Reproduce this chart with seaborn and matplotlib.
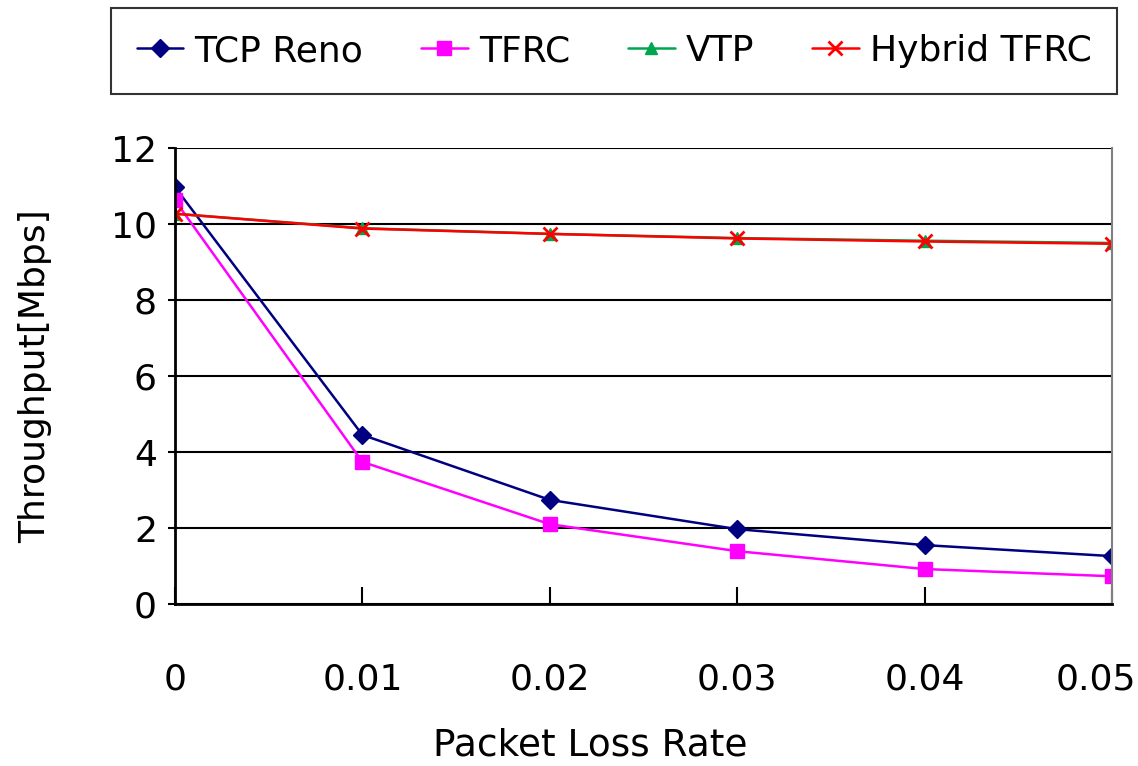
import numpy as np
import pandas as pd
import matplotlib.pyplot as plt
import matplotlib.transforms as mtransforms
import seaborn as sns

# data
loss_rate = [0, 0.01, 0.02, 0.03, 0.04, 0.05]
tick_labels = ['0', '0.01', '0.02', '0.03', '0.04', '0.05']
tcp_reno = [10.97, 4.45, 2.74, 1.97, 1.55, 1.26]
tfrc = [10.62, 3.74, 2.10, 1.39, 0.92, 0.73]
vtp = [10.27, 9.89, 9.74, 9.63, 9.56, 9.50]
hybrid_tfrc = [10.27, 9.88, 9.74, 9.62, 9.54, 9.48]

series = {'TCP Reno': tcp_reno, 'TFRC': tfrc, 'VTP': vtp, 'Hybrid TFRC': hybrid_tfrc}
colors = {'TCP Reno': '#000080', 'TFRC': '#FF00FF', 'VTP': '#00A550', 'Hybrid TFRC': '#FF0000'}
markers = {'TCP Reno': 'D', 'TFRC': 's', 'VTP': '^', 'Hybrid TFRC': 'x'}
msizes = {'TCP Reno': 9, 'TFRC': 10, 'VTP': 9, 'Hybrid TFRC': 10}

sns.set_style('white')
plt.rcParams['font.family'] = ['DejaVu Sans']
plt.rcParams['text.color'] = 'black'
plt.rcParams['axes.labelcolor'] = 'black'
plt.rcParams['xtick.color'] = 'black'
plt.rcParams['ytick.color'] = 'black'

fig = plt.figure(figsize=(11.38, 7.66), dpi=100)
ax = fig.add_axes([175 / 1138, 1 - 604 / 766, (1112 - 175) / 1138, (604 - 148) / 766])

for name, vals in series.items():
    df = pd.DataFrame({'x': loss_rate, 'y': vals})
    sns.lineplot(data=df, x='x', y='y', ax=ax, color=colors[name], marker=markers[name],
                 markersize=msizes[name], markeredgecolor=colors[name],
                 markeredgewidth=2 if name == 'Hybrid TFRC' else 1,
                 linewidth=1.8, label=name, legend=False)

ax.set_xlim(0, 0.05)
ax.set_ylim(0, 12)
ax.set_yticks(np.arange(0, 13, 2))
ax.set_xticks(loss_rate)
ax.set_xticklabels(tick_labels)
ax.yaxis.grid(True, color='black', linewidth=1.5)
ax.set_axisbelow(True)

for s in ['left', 'bottom']:
    ax.spines[s].set_color('black')
    ax.spines[s].set_linewidth(2)
ax.spines['right'].set_color('#808080')
ax.spines['right'].set_linewidth(1.5)
ax.spines['top'].set_visible(False)

ax.tick_params(axis='x', direction='in', length=12, width=1.5, pad=42, labelsize=26, bottom=True)
ax.tick_params(axis='y', direction='out', length=5, width=1.5, pad=8, labelsize=26, left=True)

# last label sits inside the figure, as in the reference
last = ax.get_xticklabels()[-1]
last.set_transform(last.get_transform() + mtransforms.ScaledTranslation(-0.16, 0, fig.dpi_scale_trans))

ax.set_xlabel('Packet Loss Rate', fontsize=27)
ax.set_ylabel('Throughput[Mbps]', fontsize=26)
ax.xaxis.set_label_coords((590 - 175) / 937, -(745 - 604) / 456)
ax.yaxis.set_label_coords(-(175 - 35) / 937, 0.5)
ax.xaxis.label.set_va('center')
ax.yaxis.label.set_va('center')

handles, labels = ax.get_legend_handles_labels()
leg = fig.legend(handles, labels, loc='center', ncol=4,
                 bbox_to_anchor=(614 / 1138, 1 - 51 / 766),
                 fontsize=26, frameon=True, fancybox=False, handlelength=1.3,
                 handletextpad=0.3, columnspacing=1.6, borderpad=0.72)
leg.get_frame().set_edgecolor('black')
leg.get_frame().set_linewidth(1.5)

fig.savefig('out.png', dpi=100)
